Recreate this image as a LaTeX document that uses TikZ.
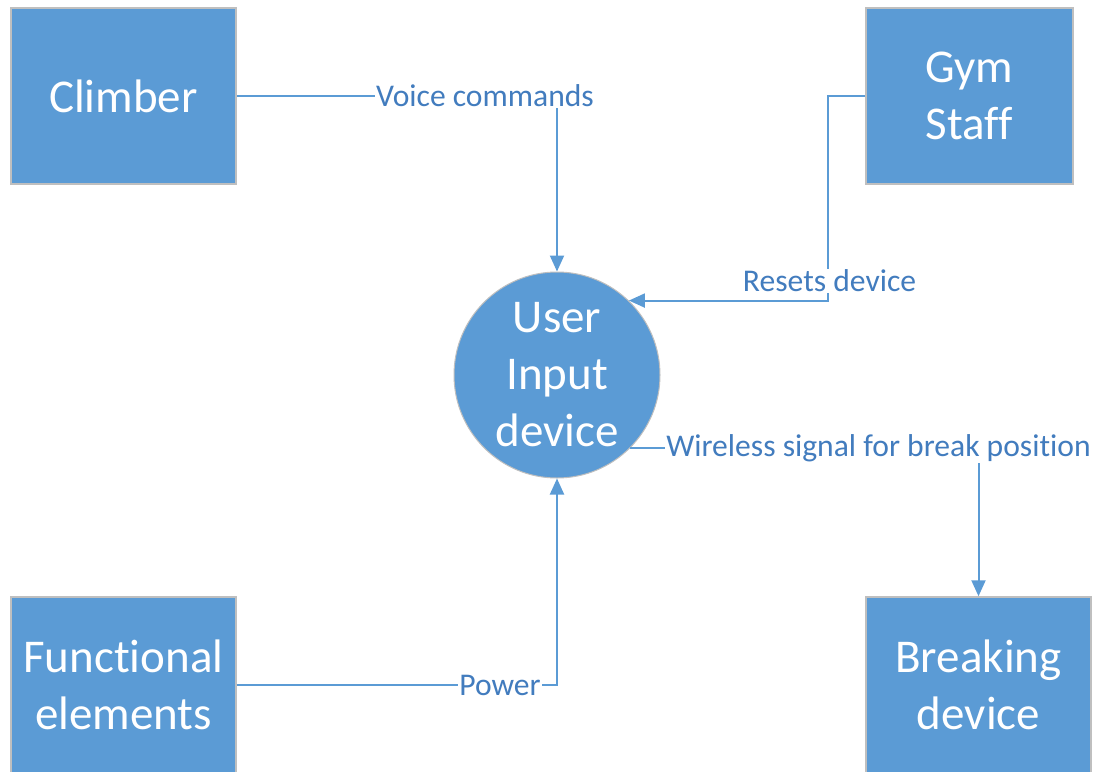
\documentclass[tikz,border=0pt]{standalone}
\usepackage{fontspec}
\setmainfont{Carlito}[Ligatures=NoCommon]
\usetikzlibrary{arrows.meta}
\definecolor{boxblue}{RGB}{91,155,213}
\definecolor{edgegray}{RGB}{191,191,191}
\definecolor{labelblue}{RGB}{66,124,190}
\tikzset{
  entity/.style={rectangle, fill=boxblue, draw=edgegray, line width=1.5pt,
    text=white, align=center, inner sep=0pt,
    font=\fontsize{47}{57}\selectfont},
  process/.style={circle, fill=boxblue, draw=edgegray, line width=1pt,
    text=white, align=center, inner sep=0pt, minimum size=206pt,
    font=\fontsize{47}{57}\selectfont},
  flow/.style={draw=boxblue, line width=2pt,
    -{Triangle[width=14pt,length=16pt]}},
  flowlabel/.style={fill=white, text=labelblue, inner sep=1pt,
    font=\fontsize{31.6}{36}\selectfont}
}
\begin{document}
\begin{tikzpicture}[x=1pt,y=-1pt]
  \useasboundingbox (0,0) rectangle (1094,771);

  % external entities
  \node[entity, minimum width=225pt, minimum height=176pt] (climb) at (123.5,96) {Climber};
  \node[entity, minimum width=207pt, minimum height=176pt] (staff) at (969.5,96) {Gym\\Staff};
  \node[entity, minimum width=225pt, minimum height=176pt] (func) at (123.5,685) {Functional\\elements};
  \node[entity, minimum width=225pt, minimum height=176pt] (brake) at (978.5,685) {Breaking\\device};

  % central process
  \node[process] (input) at (557,375) {User\\Input\\device};

  % data flows
  \draw[flow] (climb.east) -| (input.north);
  \draw[flow] (staff.west) -- ++(-37,0) coordinate (bend) |- (input.46.7);
  \draw[flow] (input.-45) -| (brake.north);
  \draw[flow] (func.east) -| (input.south);

  % flow labels
  \node[flowlabel] (lvoice) at (485,96) {Voice commands};
  \node[flowlabel] (lreset) at (829.5,281) {Resets device};
  \node[flowlabel] (lwire) at (878.5,448) {Wireless signal for break position};
  \node[flowlabel] (lpower) at (500,685) {Power};
\end{tikzpicture}
\end{document}
